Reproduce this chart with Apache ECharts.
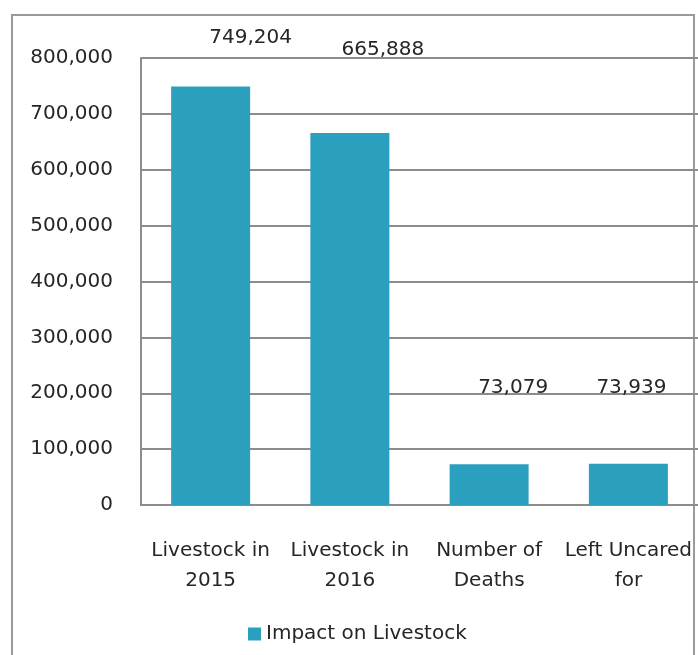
<!DOCTYPE html>
<html>
<head>
<meta charset="utf-8">
<script src="https://cdn.jsdelivr.net/npm/echarts@6/dist/echarts.min.js"></script>
<style>
  html, body { margin: 0; padding: 0; background: #fff; }
  #chart { width: 698px; height: 655px; }
</style>
</head>
<body>
<div id="chart"></div>
<script>
// Livestock impact figures
const categories = ['Livestock in\n2015', 'Livestock in\n2016', 'Number of\nDeaths', 'Left Uncared\nfor'];
const values = [749204, 665888, 73079, 73939];
const seriesName = 'Impact on Livestock';
const yTicks = { min: 0, max: 800000, interval: 100000 };

// Value label placement relative to each bar top
const labelOffsets = [[40, -34], [33, -68], [24, -61], [3, -61]];

const FONT = 'DejaVu Sans';
const SIZE = 20;
const TEXT = '#262626';
const BAR = '#2a9fbe';

const fmt = v => Number(v).toLocaleString('en-US');

const chart = echarts.init(document.getElementById('chart'), null, { renderer: 'canvas' });
chart.setOption({
  animation: false,
  backgroundColor: '#fff',
  textStyle: { fontFamily: FONT },
  graphic: [{
    type: 'rect',
    shape: { x: 12, y: 15, width: 682, height: 700 },
    style: { fill: 'none', stroke: '#9a9a9a', lineWidth: 2 },
    z: -1
  }],
  grid: { left: 141, right: 0, top: 58, bottom: 150, containLabel: false },
  legend: {
    data: [seriesName],
    left: 243, top: 619,
    icon: 'rect', itemWidth: 13, itemHeight: 13,
    textStyle: { fontFamily: FONT, fontSize: SIZE, color: TEXT }
  },
  xAxis: {
    type: 'category',
    data: categories,
    axisLine: { lineStyle: { color: '#8c8c8c', width: 2 } },
    axisTick: { show: false },
    axisLabel: { interval: 0, fontFamily: FONT, fontSize: SIZE, color: TEXT, lineHeight: 30, margin: 31 }
  },
  yAxis: {
    type: 'value',
    min: yTicks.min, max: yTicks.max, interval: yTicks.interval,
    axisLine: { show: true, lineStyle: { color: '#8c8c8c', width: 2 } },
    axisTick: { show: false },
    splitLine: { lineStyle: { color: '#8c8c8c', width: 2 } },
    axisLabel: { fontFamily: FONT, fontSize: SIZE, color: TEXT, margin: 28, formatter: fmt }
  },
  series: [{
    name: seriesName,
    type: 'bar',
    barWidth: 79,
    itemStyle: { color: BAR },
    data: values.map((v, i) => ({ value: v, label: { offset: labelOffsets[i] } })),
    label: {
      show: true, position: 'top', distance: 5,
      fontFamily: FONT, fontSize: SIZE, color: TEXT,
      formatter: p => fmt(p.value)
    }
  }]
});
</script>
</body>
</html>
